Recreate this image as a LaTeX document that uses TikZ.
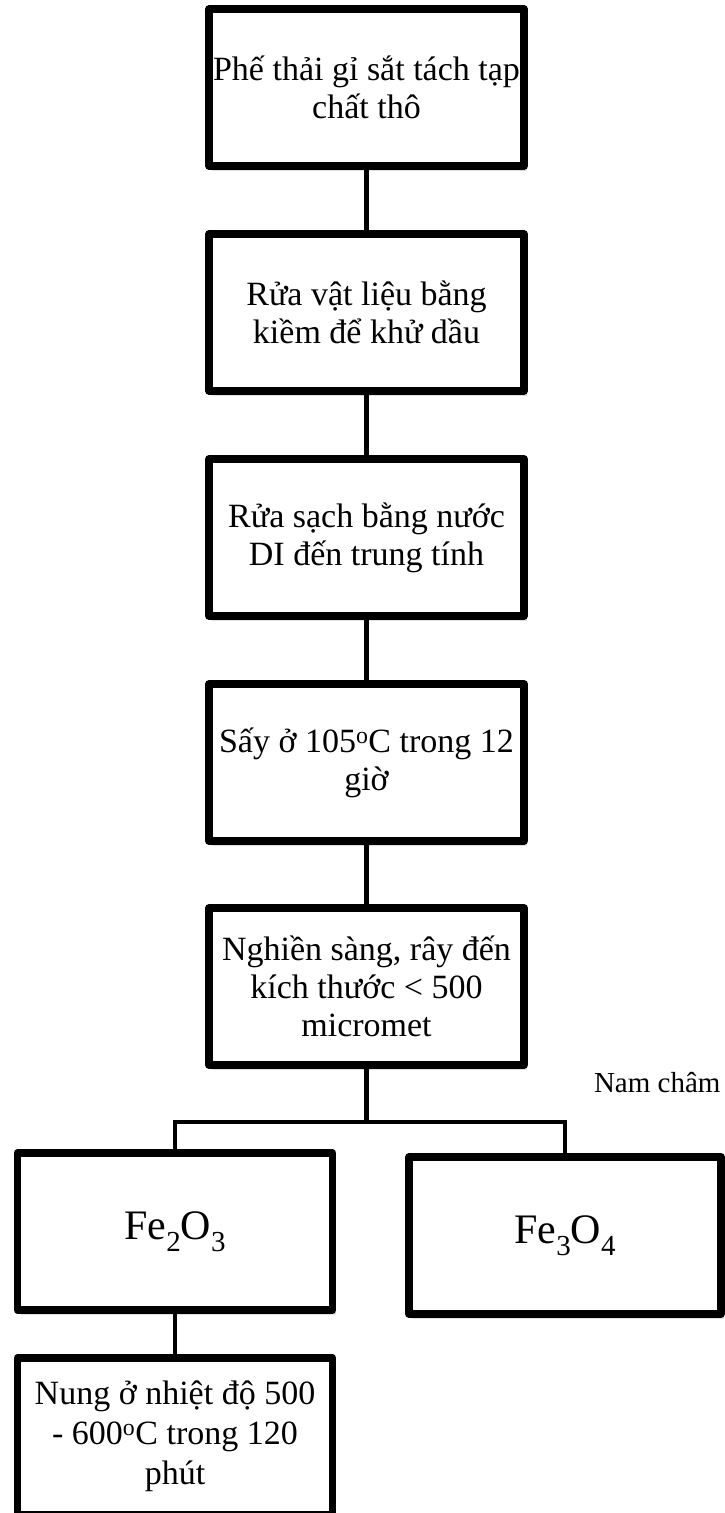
\documentclass[tikz,border=0pt]{standalone}
\usepackage{fontspec}
\setmainfont{Liberation Serif}
\usetikzlibrary{positioning,shadows}

\newcommand{\indice}[1]{\raisebox{-12pt}{\fontsize{29}{29}\selectfont #1}}

\tikzset{
  etape/.style={draw, line width=7.5pt, line join=round, fill=white,
    minimum width=315pt, minimum height=157pt, inner sep=0pt, align=center,
    font=\fontsize{34}{38}\selectfont,
    drop shadow={shadow xshift=3pt, shadow yshift=-5pt, opacity=.25}},
  lien/.style={line width=4.5pt},
}

\begin{document}
\begin{tikzpicture}[x=1pt,y=-1pt]
  %
  % Positions
  %
  \pgfmathsetmacro{\xc}{366.5};%
  \pgfmathsetmacro{\xg}{175};%
  \pgfmathsetmacro{\xd}{565};%
  \pgfmathsetmacro{\yj}{1122};%

  \useasboundingbox (0,0) rectangle (725,1513);

  %
  % Boxes
  %
  \node[etape] (phe) at (\xc,87.5) {Phế thải gỉ sắt tách tạp\\chất thô};
  \node[etape] (kiem) at (\xc,312.5) {Rửa vật liệu bằng\\kiềm để khử dầu};
  \node[etape] (nuoc) at (\xc,537.5) {Rửa sạch bằng nước\\DI đến trung tính};
  \node[etape] (say) at (\xc,762.5) {Sấy ở 105\textsuperscript{o}C trong 12\\giờ};
  \node[etape] (nghien) at (\xc,986.5) {Nghiền sàng, rây đến\\kích thước < 500\\micromet};

  \node[etape, font=\fontsize{42}{46}\selectfont] (fedo) at (\xg,1231.5)
    {Fe\indice{2}O\indice{3}};
  \node[etape, minimum width=312pt, font=\fontsize{42}{46}\selectfont] (fetu) at (\xd,1235.5)
    {Fe\indice{3}O\indice{4}};
  \node[etape, font=\fontsize{34}{40}\selectfont] (nung) at (\xg,1436.5)
    {Nung ở nhiệt độ 500\\- 600\textsuperscript{o}C trong 120\\phút};

  % Nam châm
  \node[anchor=base east, font=\fontsize{29}{32}\selectfont] (nam) at (724,1092) {Nam châm};

  %
  % Liens
  %
  \coordinate (j) at (\xc,\yj);
  \draw[lien] (phe) -- (kiem);
  \draw[lien] (kiem) -- (nuoc);
  \draw[lien] (nuoc) -- (say);
  \draw[lien] (say) -- (nghien);
  \draw[lien] (nghien) -- (j);
  \draw[lien] (j) -| (fedo);
  \draw[lien] (j) -| (fetu);
  \draw[lien] (fedo) -- (nung);

\end{tikzpicture}
\end{document}
